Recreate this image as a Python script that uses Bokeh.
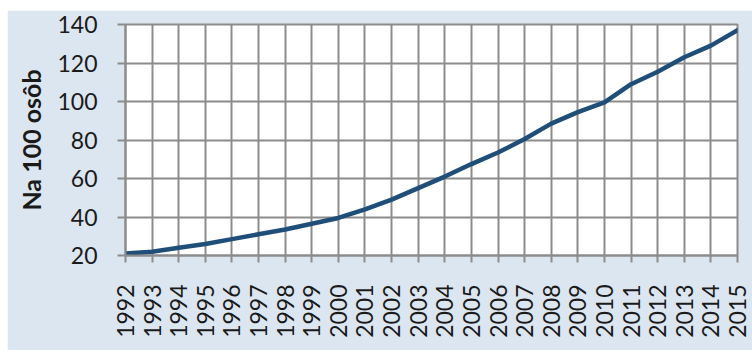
from bokeh.plotting import figure
from bokeh.models import Range1d, FixedTicker
from bokeh.embed import file_html
from bokeh.resources import INLINE

# Values per 100 persons, by year
years = list(range(1992, 2016))
values = [21, 22, 24, 26, 28.5, 31, 33.5, 36.5, 39.5, 44, 49, 55, 61, 67.5,
          73.5, 80.5, 88.5, 94.5, 99.5, 109, 115.5, 123, 129, 137]
y_ticks = [20, 40, 60, 80, 100, 120, 140]
y_label = "Na 100 osôb"

PANEL = "#dce6f1"
GRID = "#8c8c8c"
LINE = "#1f4e79"
FONT = "Lato"

# the figure itself is the light blue chart panel, offset inside the white page
p = figure(width=745, height=340, output_backend="svg", toolbar_location=None,
           x_range=Range1d(1992, 2015), y_range=Range1d(20, 140),
           min_border_left=118, min_border_right=15,
           min_border_top=14, min_border_bottom=95)
p.margin = (10, 0, 4, 7)

p.background_fill_color = "white"
p.border_fill_color = PANEL
p.outline_line_color = GRID
p.outline_line_width = 2

p.line(years, values, line_color=LINE, line_width=4.5, line_join="round", line_cap="round")

# x axis: one tick per year, vertical labels
p.xaxis.ticker = FixedTicker(ticks=years)
p.xaxis.major_label_orientation = 1.5708
p.xaxis.major_label_text_font = FONT
p.xaxis.major_label_text_font_size = "23px"
p.xaxis.major_label_text_color = "#1a1a1a"
p.xaxis.major_label_standoff = 22
p.xaxis.axis_line_color = GRID
p.xaxis.axis_line_width = 2
p.xaxis.major_tick_line_color = GRID
p.xaxis.major_tick_line_width = 2
p.xaxis.major_tick_out = 7
p.xaxis.major_tick_in = 0
p.xaxis.minor_tick_line_color = None

# y axis
p.yaxis.ticker = FixedTicker(ticks=y_ticks)
p.yaxis.major_label_text_font = FONT
p.yaxis.major_label_text_font_size = "23px"
p.yaxis.major_label_text_color = "#1a1a1a"
p.yaxis.major_label_standoff = 20
p.yaxis.axis_line_color = GRID
p.yaxis.axis_line_width = 2
p.yaxis.major_tick_line_color = GRID
p.yaxis.major_tick_line_width = 2
p.yaxis.major_tick_out = 8
p.yaxis.major_tick_in = 0
p.yaxis.minor_tick_line_color = None
p.yaxis.axis_label = y_label
p.yaxis.axis_label_text_font = FONT
p.yaxis.axis_label_text_font_size = "25px"
p.yaxis.axis_label_text_font_style = "bold"
p.yaxis.axis_label_text_color = "#1a1a1a"
p.yaxis.axis_label_standoff = 8

# grid
p.xgrid.ticker = FixedTicker(ticks=years)
p.ygrid.ticker = FixedTicker(ticks=y_ticks)
p.grid.grid_line_color = GRID
p.grid.grid_line_width = 2
p.grid.grid_line_alpha = 1

open("out.html", "w").write(file_html(p, INLINE))
